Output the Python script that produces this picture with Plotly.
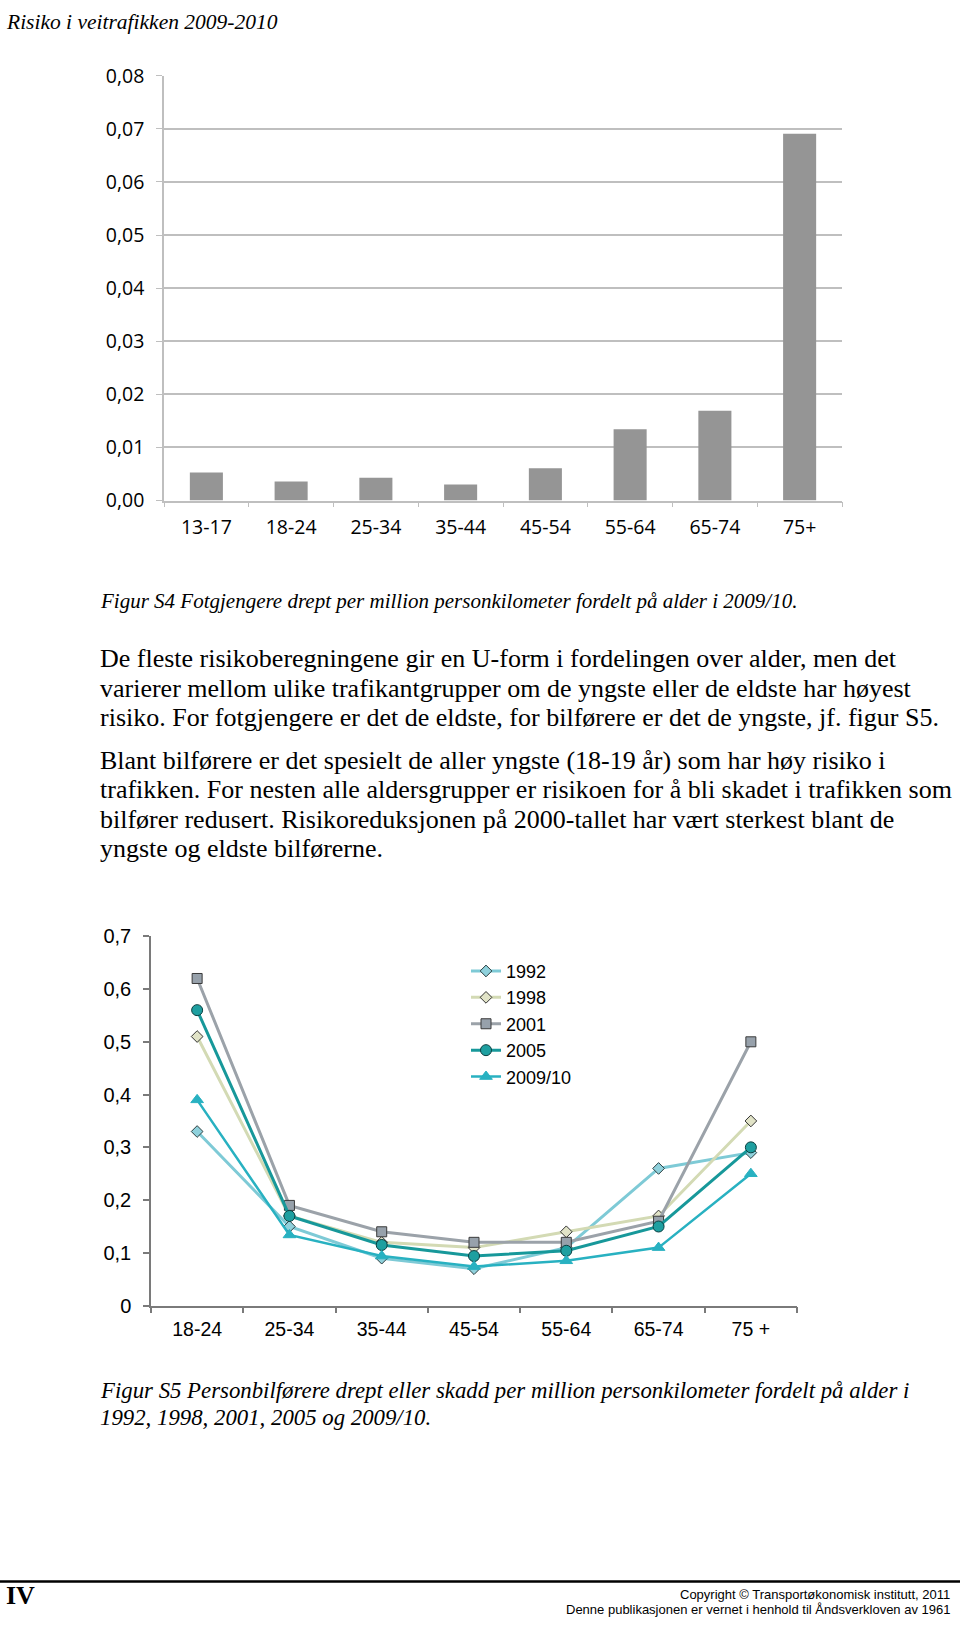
import plotly.graph_objects as go

# ---------------- data ----------------
bar_categories = ["13-17", "18-24", "25-34", "35-44", "45-54", "55-64", "65-74", "75+"]
bar_values = [0.0053, 0.0036, 0.0043, 0.0030, 0.0061, 0.0134, 0.0169, 0.0691]
bar_ytickvals = [0.00, 0.01, 0.02, 0.03, 0.04, 0.05, 0.06, 0.07, 0.08]
bar_yticktext = ["0,00", "0,01", "0,02", "0,03", "0,04", "0,05", "0,06", "0,07", "0,08"]

line_categories = ["18-24", "25-34", "35-44", "45-54", "55-64", "65-74", "75 +"]
series_names = ["1992", "1998", "2001", "2005", "2009/10"]
v1992 = [0.33, 0.15, 0.09, 0.07, 0.11, 0.26, 0.29]
v1998 = [0.51, 0.17, 0.12, 0.11, 0.14, 0.17, 0.35]
v2001 = [0.62, 0.19, 0.14, 0.12, 0.12, 0.16, 0.50]
v2005 = [0.56, 0.17, 0.115, 0.094, 0.104, 0.15, 0.30]
v2009 = [0.39, 0.134, 0.094, 0.074, 0.085, 0.11, 0.25]
line_ytickvals = [0, 0.1, 0.2, 0.3, 0.4, 0.5, 0.6, 0.7]
line_yticktext = ["0", "0,1", "0,2", "0,3", "0,4", "0,5", "0,6", "0,7"]

header_text = "Risiko i veitrafikken 2009-2010"
caption_s4 = "Figur S4 Fotgjengere drept per million personkilometer fordelt på alder i 2009/10."
paragraph1 = [
    "De fleste risikoberegningene gir en U-form i fordelingen over alder, men det",
    "varierer mellom ulike trafikantgrupper om de yngste eller de eldste har høyest",
    "risiko. For fotgjengere er det de eldste, for bilførere er det de yngste, jf. figur S5.",
]
paragraph2 = [
    "Blant bilførere er det spesielt de aller yngste (18-19 år) som har høy risiko i",
    "trafikken. For nesten alle aldersgrupper er risikoen for å bli skadet i trafikken som",
    "bilfører redusert. Risikoreduksjonen på 2000-tallet har vært sterkest blant de",
    "yngste og eldste bilførerne.",
]
caption_s5 = [
    "Figur S5 Personbilførere drept eller skadd per million personkilometer fordelt på alder i",
    "1992, 1998, 2001, 2005 og 2009/10.",
]
footer_left = "IV"
footer_right = [
    "Copyright © Transportøkonomisk institutt, 2011",
    "Denne publikasjonen er vernet i henhold til Åndsverkloven av 1961",
]

# ---------------- geometry helpers ----------------
W, H = 960, 1630


def px_x(x):
    return x / W


def ry(y):
    # map target page pixel row to layout pixel row (page shows figure slightly compressed)
    return (y - 13.2) / 0.984


def py(y):
    return 1 - ry(y) / H


def py_raw(Y):
    return 1 - Y / H


SERIF = "Liberation Serif, Times New Roman, serif"
SANS = "Liberation Sans, Arial, sans-serif"
CAL = "Open Sans, sans-serif"
NARROW = "Liberation Sans Narrow, Arial Narrow, Liberation Sans, sans-serif"

fig = go.Figure()

# ---------------- bar chart ----------------
fig.add_trace(go.Bar(
    x=bar_categories, y=bar_values,
    marker=dict(color="#959595", line=dict(width=0)),
    xaxis="x", yaxis="y", showlegend=False,
))

# ---------------- line chart ----------------
styles = [
    dict(line="#7ECAD6", fill="#8FD1DC", outline="#2c3e40", symbol="diamond", size=9, lw=3),
    dict(line="#D3DAB4", fill="#E1E3C7", outline="#333333", symbol="diamond", size=9, lw=3),
    dict(line="#9BA2A9", fill="#97A1AB", outline="#3a3a3a", symbol="square", size=10, lw=3),
    dict(line="#17989A", fill="#1E9FA0", outline="#0b3f40", symbol="circle", size=11, lw=3),
    dict(line="#28B1C1", fill="#28B1C1", outline="#28B1C1", symbol="triangle-up", size=11, lw=2.5),
]
for name, vals, st in zip(series_names, [v1992, v1998, v2001, v2005, v2009], styles):
    fig.add_trace(go.Scatter(
        x=line_categories, y=vals, name=name, mode="lines+markers",
        line=dict(color=st["line"], width=st["lw"]),
        marker=dict(symbol=st["symbol"], size=st["size"], color=st["fill"],
                    line=dict(color=st["outline"], width=1)),
        xaxis="x2", yaxis="y2",
    ))

grid_c = "#BFBFBF"
axis_c2 = "#7A7A7A"

fig.update_layout(
    width=W, height=H, autosize=False,
    margin=dict(l=0, r=0, t=0, b=0),
    paper_bgcolor="white", plot_bgcolor="white",
    bargap=0.61,
    xaxis=dict(
        domain=[px_x(164), px_x(842)], anchor="y", type="category",
        range=[-0.5, 7.5], showline=True, linecolor=grid_c, linewidth=1.5,
        ticks="outside", tickson="boundaries", ticklen=5, tickcolor=grid_c, tickwidth=1,
        tickfont=dict(family=CAL, size=19.5, color="#000000"), showgrid=False,
        ticklabelstandoff=8,
    ),
    yaxis=dict(
        domain=[py(500), py(75)], anchor="x", range=[0, 0.08],
        tickvals=bar_ytickvals, ticktext=bar_yticktext,
        showgrid=True, gridcolor=grid_c, gridwidth=1.5,
        showline=True, linecolor=grid_c, linewidth=1.5,
        ticks="outside", ticklen=6, tickcolor=grid_c,
        tickfont=dict(family=CAL, size=19.5, color="#000000"), zeroline=False,
        ticklabelstandoff=8,
    ),
    xaxis2=dict(
        domain=[px_x(151), px_x(797)], anchor="y2", type="category",
        range=[-0.5, 6.5], showline=True, linecolor=axis_c2, linewidth=1.5,
        ticks="outside", tickson="boundaries", ticklen=6, tickcolor=axis_c2, tickwidth=1.5,
        tickfont=dict(family=SANS, size=19.5, color="#000000"), showgrid=False,
        ticklabelstandoff=5,
    ),
    yaxis2=dict(
        domain=[py(1305.6), py(936)], anchor="x2", range=[0, 0.7],
        tickvals=line_ytickvals, ticktext=line_yticktext,
        showgrid=False, showline=True, linecolor=axis_c2, linewidth=1.5,
        ticks="outside", ticklen=6, tickcolor=axis_c2, tickwidth=1.5,
        tickfont=dict(family=SANS, size=20, color="#000000"), zeroline=False,
        ticklabelstandoff=8,
    ),
    legend=dict(
        x=px_x(466), y=py(952.5), xanchor="left", yanchor="top",
        font=dict(family=SANS, size=18, color="#000000"),
        bgcolor="rgba(0,0,0,0)", borderwidth=0, tracegroupgap=0,
        itemwidth=30,
    ),
    showlegend=True,
)

annotations = []


def add_text(text, x, yfrac, size, family=SERIF, anchor="left", color="#000000"):
    annotations.append(dict(
        text=text, x=px_x(x), y=yfrac, xref="paper", yref="paper",
        xanchor=anchor, yanchor="middle", showarrow=False,
        font=dict(family=family, size=size, color=color),
    ))


add_text("<i>" + header_text + "</i>", 4, py_raw(8.5), 21.5)
add_text("<i>" + caption_s4 + "</i>", 98, py(601), 21)
for i, line in enumerate(paragraph1):
    add_text(line, 98, py(658.3 + i * 29.5), 26)
for i, line in enumerate(paragraph2):
    add_text(line, 98, py(760 + i * 29.4), 26)
for i, line in enumerate(caption_s5):
    add_text("<i>" + line + "</i>", 98, py(1390.5 + i * 26.6), 22.8)
add_text("<b>" + footer_left + "</b>", 4, py(1596), 26)
add_text(footer_right[0], 952, py_raw(1607.5), 13, family=NARROW, anchor="right")
add_text(footer_right[1], 952, py_raw(1622), 13, family=NARROW, anchor="right")

fig.update_layout(annotations=annotations)

fig.add_shape(type="line", xref="paper", yref="paper",
              x0=0, x1=1, y0=py(1581.7), y1=py(1581.7),
              line=dict(color="#000000", width=2.5))

fig.write_html("out.html")
